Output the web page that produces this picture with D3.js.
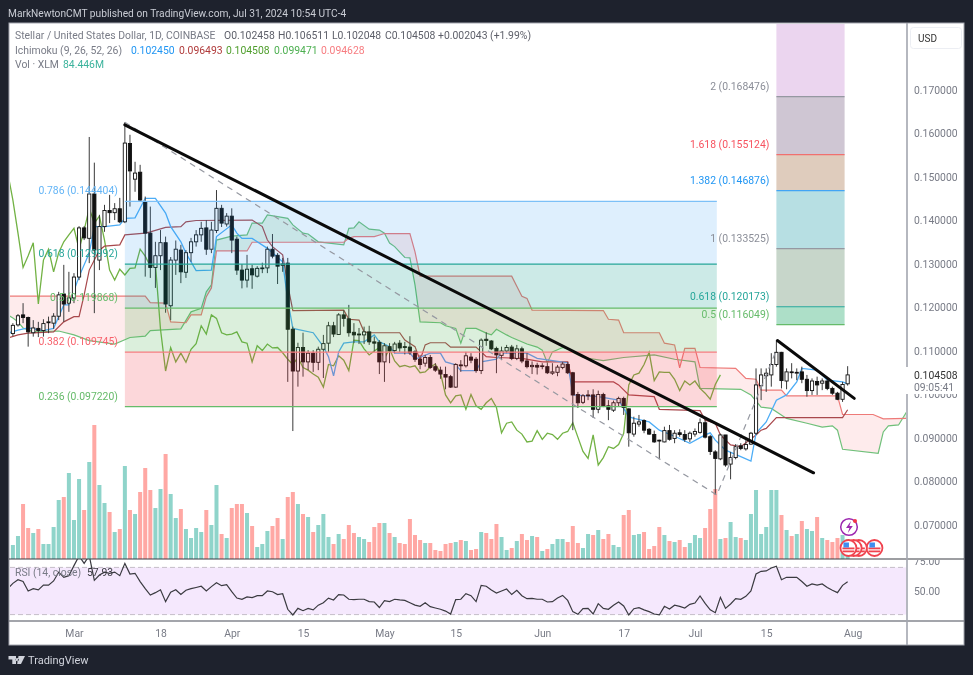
<!DOCTYPE html>
<html><head><meta charset="utf-8">
<script src="https://cdn.jsdelivr.net/npm/d3@7/dist/d3.min.js"></script>
<style>
html,body{margin:0;padding:0;background:#1e222d;overflow:hidden}
svg{display:block;filter:blur(.3px)}
text{font-family:Roboto,"Liberation Sans",sans-serif}
</style></head><body>
<script>
// ---------- data (prices in thousandths of a US dollar, bars counted from 17 Feb 2024) ----------
const open=[116.0,114.0,116.0,118.3,117.7,114.2,115.2,114.7,116.5,116.4,
118.0,123.1,121.0,122.2,127.0,138.3,135.9,146.1,130.9,138.6,
142.3,141.8,142.7,139.7,157.7,149.5,151.1,144.3,137.1,129.2,
131.9,134.9,120.4,130.9,133.2,128.1,132.6,135.1,136.7,138.3,
133.4,137.7,142.8,139.2,141.0,135.7,128.6,126.3,128.9,127.2,
129.0,129.1,133.4,132.0,129.7,130.2,115.0,105.4,110.8,107.5,
109.5,107.4,110.4,111.8,115.8,113.8,118.3,117.4,114.3,113.7,
113.7,114.4,112.1,112.0,107.5,111.0,110.1,111.8,111.0,110.9,
109.8,108.1,107.2,108.5,106.4,105.6,104.6,104.1,101.7,106.8,
106.6,108.6,108.1,105.5,112.7,112.3,110.6,109.0,110.0,110.9,
108.3,110.5,107.7,106.4,106.7,106.5,106.4,104.9,105.1,106.2,
106.9,105.0,100.0,98.2,99.7,99.9,96.6,100.0,97.4,96.4,
98.1,99.1,96.7,90.9,93.2,94.0,92.0,90.8,89.5,89.1,
91.7,89.9,91.2,90.8,89.8,90.9,91.3,93.5,90.3,86.8,
85.2,90.7,84.0,85.5,88.2,87.5,88.6,91.1,102.0,104.3,
104.5,106.9,109.7,103.1,105.2,104.9,105.2,103.5,100.9,103.0,
102.6,103.1,101.4,100.3,98.9,102.458];
const high=[116.4,116.4,118.5,121.0,117.9,117.1,116.7,117.3,117.9,118.7,
123.6,129.8,128.2,127.9,138.7,138.7,159.2,153.3,141.3,143.6,
145.9,144.0,145.2,162.6,159.7,153.5,152.8,145.5,143.2,135.1,
137.8,136.3,131.6,135.4,134.4,133.2,136.0,137.8,139.7,140.1,
139.7,147.0,143.6,141.7,142.8,136.3,130.0,132.1,129.8,129.5,
130.3,134.0,136.9,132.5,131.4,131.4,115.6,111.9,114.2,110.2,
110.2,111.0,113.7,116.7,116.7,118.7,119.4,120.6,116.4,115.3,
115.6,115.8,113.3,112.5,111.8,111.8,112.1,112.5,112.1,113.4,
110.2,109.1,109.1,109.1,107.2,106.4,106.4,104.5,107.2,107.9,
109.8,109.5,108.6,112.9,114.3,112.5,111.0,111.0,111.4,111.4,
111.4,111.0,109.5,107.6,107.3,107.2,107.2,107.2,106.8,107.5,
107.5,105.2,100.6,100.1,101.0,101.2,100.9,100.4,98.7,98.6,
99.5,99.5,96.8,94.9,95.3,94.3,92.3,91.7,89.6,92.6,
93.0,91.8,92.0,91.8,91.5,92.2,94.5,94.1,90.7,87.2,
91.0,90.7,86.8,88.6,88.8,89.5,91.4,106.0,106.0,106.0,
109.5,112.5,109.8,106.0,107.2,106.0,106.4,104.5,103.7,104.1,
103.7,103.7,101.8,100.6,102.9,106.511];
const low=[113.0,113.4,115.6,116.4,111.0,113.3,113.2,113.3,114.1,115.1,
117.1,116.7,119.0,121.0,126.3,135.5,130.2,118.7,128.6,137.4,
139.4,140.1,139.4,139.4,143.2,146.6,144.3,127.1,126.8,124.5,
128.6,118.8,117.1,127.5,125.6,126.8,130.5,134.0,135.1,132.1,
132.5,137.1,138.5,138.6,132.5,127.5,124.4,124.6,124.3,126.9,
127.9,127.9,131.3,125.4,128.2,102.9,91.6,101.8,104.1,105.6,
105.2,105.6,103.8,109.8,113.2,113.7,115.6,113.3,111.8,111.6,
111.6,111.4,109.8,104.7,102.9,107.2,109.5,109.8,109.2,109.1,
107.5,105.8,106.4,105.9,105.2,103.6,101.2,101.5,101.5,105.2,
106.2,107.2,105.0,104.7,111.2,110.2,104.9,107.9,109.5,107.9,
107.9,107.2,106.0,104.7,104.6,105.8,104.7,104.5,104.2,105.8,
104.7,91.8,96.9,97.8,98.7,94.6,95.7,97.1,94.1,96.0,
97.2,95.3,88.0,90.3,92.6,91.1,90.7,88.9,85.1,89.0,
89.4,88.8,90.3,89.1,89.1,90.3,91.0,89.9,86.1,76.9,
84.9,83.4,80.5,85.1,87.2,87.1,88.4,90.7,98.7,100.6,
101.8,106.4,101.4,101.2,103.7,103.3,102.6,99.5,99.9,99.9,
101.0,101.0,99.9,98.7,98.3,102.048];
const close=[113.7,115.9,118.1,117.7,114.4,115.3,114.7,116.3,116.7,118.0,
122.9,120.8,122.2,127.0,138.3,136.0,146.1,133.2,138.6,142.3,
141.8,142.7,139.7,157.8,151.4,150.9,144.7,137.1,129.2,131.9,
134.9,120.8,130.9,133.4,128.2,132.6,135.1,136.7,138.2,133.4,
137.8,142.8,139.4,141.0,135.5,128.6,126.3,128.8,127.5,129.0,
129.1,133.4,131.8,129.5,130.0,115.0,105.4,110.8,107.5,109.5,
107.4,110.4,111.7,115.8,113.9,118.3,117.5,114.2,113.7,113.9,
114.4,112.1,111.8,107.5,111.2,110.1,111.6,110.7,110.8,109.6,
108.1,106.9,108.5,106.2,105.6,104.7,104.0,101.7,106.9,106.6,
108.9,107.9,105.5,112.5,112.4,110.5,109.1,110.0,110.8,108.3,
110.5,107.7,106.4,106.7,106.3,106.6,105.0,105.2,106.3,107.0,
105.0,99.9,98.1,99.7,99.9,96.6,100.0,97.4,96.6,98.1,
99.1,97.0,91.2,93.4,93.7,91.8,90.9,89.1,89.3,91.7,
89.7,91.1,90.8,89.7,91.1,91.5,93.5,90.2,86.9,85.3,
90.7,83.8,85.5,88.0,87.6,88.5,91.1,102.2,104.5,104.9,
106.9,109.7,103.2,105.2,105.1,105.1,103.5,100.9,103.1,102.2,
103.1,101.4,100.3,98.9,102.3,104.508];
const volume=[15,14,23,55,31,26,30,15,15,32,59,62,86,39,80,49,97,134,74,56,
47,27,30,93,49,45,67,91,69,51,70,105,65,41,50,30,21,31,27,49,
34,74,25,21,51,55,55,46,33,12,15,28,33,41,20,62,67,55,45,42,
27,34,45,22,15,25,20,34,26,22,20,17,32,36,36,26,22,16,15,40,
24,19,16,16,9,8,15,16,17,19,18,9,10,27,26,20,35,22,9,11,
18,25,19,23,22,8,10,15,20,20,17,33,16,11,25,24,29,20,25,14,
12,44,49,24,25,27,10,13,32,24,18,17,19,12,16,24,21,31,50,70,
20,21,37,22,21,19,45,69,25,32,69,69,44,29,23,25,38,30,28,42,
21,19,17,21,24,20];
const volumeUp=[0,1,1,0,0,1,0,1,1,1, 1,0,1,1,1,0,1,0,1,1, 0,1,0,1,0,1,0,0,0,1, 1,0,1,1,0,1,1,1,1,0,
1,1,0,1,0,0,0,1,0,1, 1,1,0,0,1,0,0,1,0,1, 0,1,1,1,0,1,0,0,0,1, 1,0,0,0,1,0,1,0,0,0,
0,0,1,0,0,0,0,0,1,0, 1,0,0,1,0,0,0,1,1,0, 1,0,0,1,0,1,0,1,1,1, 0,0,0,1,1,0,1,0,0,1,
1,0,0,1,1,0,0,0,0,1, 0,1,0,0,1,1,1,0,0,0, 1,0,1,1,0,1,1,1,1,1, 1,1,0,1,0,1,0,1,1,0, 1,0,0,0,1,1];
const rsi=[52,56.5,59.6,58,50,52,51,55,55,58.5,66,61.6,63,71.5,79.7,73.4,80,59,63.5,66,
65,66,63,73.4,64.4,65,58,52,46.6,48.6,51,41,49,51,47,50.6,52,53,54,50,
53.7,57,54.5,55.4,49.4,44,43,45,44.4,46,46,50,49.4,47,47.7,34.5,29.7,35.3,33.3,35.3,
34,38,40,44,42.4,47,46.6,43,42.7,43,43,41,40.7,36,41.8,41,43,42.4,42,40,
38,37,40,36.7,35.6,34.5,33,30.5,42.7,43,47.7,46,41,54.8,54,50.8,48.3,50,51.7,47,
50.6,46,43.5,43.8,43,43,40.7,41,44,46.3,42,32.5,30.2,35,35.3,30.5,39.3,35.3,34.5,38,
40.7,37.3,29.7,35,35.9,34,32.5,30.5,29.7,37,34.7,38,37,35.6,38.7,39.8,45.8,39.5,34,31.6,
44.6,35.3,39,43.5,43,45.5,50,64.4,66.7,67,69.5,71,59.6,61.6,61.6,61.6,58,54,56,55,
56,53,50.6,48.6,54.8,57.93];
const tenkan=[[0,114.1],[2,114.8],[4,115.3],[7,114.7],[9,115.2],[11,120.6],[12,120.6],[14,127.1],[16,132.5],[17,138.6],[19,138.6],[22,139.0],[23,140.5],[25,140.6],[27,145.1],[29,145.1],[31,141.7],[32,138.6],[34,135.1],[35,132.5],[36,130.5],[37,128.5],[40,128.6],[41,136.3],[44,139.0],[45,137.1],[46,135.9],[48,135.9],[51,133.6],[54,130.5],[55,121.7],[56,115.2],[60,114.2],[62,111.0],[63,108.7],[64,104.3],[65,109.8],[66,111.8],[68,112.1],[70,112.1],[72,113.7],[73,112.1],[74,111.6],[75,111.0],[76,109.5],[79,109.5],[80,108.1],[83,109.5],[85,109.5],[86,107.5],[88,106.8],[89,105.5],[92,105.5],[93,107.5],[96,108.1],[97,109.5],[102,109.5],[104,108.3],[110,107.3],[111,99.9],[116,99.5],[120,98.7],[122,94.9],[123,94.5],[126,93.7],[128,91.8],[131,90.4],[134,88.8],[137,90.7],[138,91.2],[139,89.5],[141,87.2],[144,85.7],[146,84.7],[147,91.1],[149,93.7],[151,98.7],[153,99.9],[155,102.9],[156,106.0],[159,105.6],[161,103.3],[164,102.9],[165,102.45]];
const kijun=[[0,113.0],[2,113.7],[4,114.1],[9,114.4],[11,116.7],[13,117.9],[14,117.9],[15,122.9],[16,128.6],[18,133.2],[19,134.1],[22,134.4],[23,136.7],[27,137.1],[28,137.4],[31,138.4],[34,138.6],[35,139.7],[37,140.0],[48,140.1],[50,138.6],[51,135.5],[52,134.0],[54,132.1],[55,125.2],[56,119.3],[66,119.4],[67,117.3],[69,117.1],[70,114.4],[71,114.2],[77,114.2],[78,112.5],[80,111.0],[81,107.9],[82,111.4],[83,111.9],[86,111.9],[87,110.9],[92,110.9],[93,109.8],[94,108.7],[96,108.5],[101,108.3],[105,107.5],[110,107.5],[111,102.9],[119,102.9],[120,102.2],[122,99.9],[127,99.5],[128,96.6],[136,96.3],[137,94.1],[139,93.4],[140,90.7],[142,88.4],[144,88.0],[147,90.7],[148,91.8],[149,92.2],[151,94.7],[164,94.7],[165,96.5]];
const leadA=[[0,118.3],[1,117.6],[2,116.7],[3,115.3],[5,114.4],[10,114.6],[13,113.7],[16,112.4],[21,111.6],[24,113.1],[27,113.4],[28,114.7],[34,115.1],[36,119.0],[38,119.8],[39,123.6],[40,125.2],[41,135.5],[44,136.4],[47,136.7],[48,139.4],[50,139.4],[51,141.3],[53,140.9],[55,140.5],[56,139.0],[58,137.1],[59,136.9],[61,135.1],[66,134.4],[67,138.2],[68,138.3],[69,139.7],[71,138.0],[73,137.8],[74,137.1],[75,134.8],[76,134.0],[78,131.5],[79,131.4],[80,125.2],[81,116.7],[85,116.5],[86,115.8],[88,115.2],[89,111.8],[90,115.2],[92,115.2],[94,114.1],[95,113.7],[96,115.0],[98,113.7],[99,113.1],[102,111.6],[104,110.9],[105,110.2],[106,107.3],[107,109.8],[109,110.8],[110,110.6],[111,109.7],[113,108.5],[117,107.8],[121,108.5],[127,109.1],[131,108.1],[135,107.5],[136,101.4],[144,101.2],[146,99.9],[148,97.1],[150,96.8],[153,94.5],[157,93.4],[160,92.5],[162,92.8],[163,91.8],[164,87.4],[171,86.5],[172,91.4],[173,92.8],[175,93.0],[177,96.8]];
const leadB=[[0,122.6],[27,122.6],[28,121.1],[31,121.0],[32,116.7],[35,116.5],[36,118.3],[38,118.3],[39,122.5],[40,124.5],[41,133.0],[47,133.0],[48,135.0],[66,135.0],[67,135.9],[68,136.3],[72,136.3],[74,137.0],[79,137.0],[80,132.8],[81,127.2],[99,127.2],[100,124.9],[101,122.6],[102,122.1],[103,119.4],[117,119.3],[118,117.3],[120,117.1],[121,114.2],[128,114.2],[129,111.8],[131,111.4],[132,106.1],[133,110.6],[135,110.6],[136,106.2],[143,106.0],[145,103.7],[147,103.5],[148,101.0],[152,101.0],[153,99.7],[163,99.7],[164,95.4],[170,95.4],[172,94.4],[177,94.5]];
const laggingShift=25;
const retraceBars=[23,139.3];
const retraceValues=[144.404,129.992,119.868,109.745,97.220];
const retraceLabels=["0.786 (0.144404)","0.618 (0.129992)","0.5 (0.119868)","0.382 (0.109745)","0.236 (0.097220)"];
const extendBars=[151,164.4];
const extendValues=[168.476,155.124,146.876,133.525,120.173,116.049];
const extendLabels=["2 (0.168476)","1.618 (0.155124)","1.382 (0.146876)","1 (0.133525)","0.618 (0.120173)","0.5 (0.116049)"];
const priceTicks=[70,80,90,100,110,120,130,140,150,160,170];
const rsiTicks=[50,75];
const timeTicks=[13,30,44,58,74,88,105,121,135,149,166];
const timeLabels=["Mar","18","Apr","15","May","15","Jun","17","Jul","15","Aug"];
const trendLong=[[23,162.0],[158.3,82.0]];
const trendShort=[[151.2,112.4],[166.3,99.1]];
const dashedPath=[[23,162.6],[139.3,76.9],[151,110.2]];
const flagBars=[170,167,166,165];
// ---------- layout ----------
const W=973,H=675,L=9,R=964,T=23,B=645,SEP=907,PANE=559,RSIB=621;
const x=d3.scaleLinear([0,165],[7.8,847.65]);
const y=d3.scaleLinear([70,170],[525,90]);
const yv=d3.scaleLinear([0,134],[PANE,PANE-134]);
const yr=d3.scaleLinear([50,75],[591,561.5]);
const svg=d3.select("body").append("svg").attr("width",W).attr("height",H);
const defs=svg.append("defs");
const clip=(id,a,b,c,d)=>defs.append("clipPath").attr("id",id).append("rect").attr("x",a).attr("y",b).attr("width",c-a).attr("height",d-b);
clip("main",L+1,T+1,SEP-1,PANE);clip("rsi",L+1,PANE,SEP-1,RSIB);clip("raxis",SEP,PANE+1,R,RSIB);
svg.append("rect").attr("width",W).attr("height",H).attr("fill","#1e222d");
svg.append("rect").attr("x",L).attr("y",T).attr("width",R-L).attr("height",B-T).attr("fill","#fff").attr("stroke","#a3a6af").attr("stroke-width",1);
const main=svg.append("g").attr("clip-path","url(#main)");

// cloud
const bars=d3.range(0,178);
const fa=d3.scaleLinear(leadA.map(d=>d[0]),leadA.map(d=>d[1]));
const fb=d3.scaleLinear(leadB.map(d=>d[0]),leadB.map(d=>d[1]));
const cloud=d3.area().x(i=>x(i)).y0(i=>y(fa(i))).y1(i=>y(fb(i)));
defs.append("clipPath").attr("id","overB").append("path").attr("d",d3.area().x(i=>x(i)).y0(T).y1(i=>y(fb(i)))(bars));
defs.append("clipPath").attr("id","underB").append("path").attr("d",d3.area().x(i=>x(i)).y0(i=>y(fb(i))).y1(PANE)(bars));
main.append("g").attr("clip-path","url(#overB)").append("path").attr("d",cloud(bars)).attr("fill","rgba(76,175,80,.14)");
main.append("g").attr("clip-path","url(#underB)").append("path").attr("d",cloud(bars)).attr("fill","rgba(242,54,69,.10)");

// volume
main.append("g").selectAll("rect").data(volume).join("rect")
 .attr("x",(d,i)=>x(i)-2).attr("width",4).attr("y",d=>yv(d)).attr("height",d=>PANE-yv(d))
 .attr("fill",(d,i)=>volumeUp[i]?"#8fd4ca":"#ffa8a4");

// ichimoku
const pl=d3.line().x(d=>x(d[0])).y(d=>y(d[1]));
const lag=d3.range(0,close.length-laggingShift).map(i=>[i,close[i+laggingShift]]);
main.append("path").attr("d",pl(leadA)).attr("fill","none").attr("stroke","#70c07a").attr("stroke-width",1.2);
main.append("path").attr("d",pl(leadB)).attr("fill","none").attr("stroke","#ee7a78").attr("stroke-width",1.2);
main.append("path").attr("d",pl(lag)).attr("fill","none").attr("stroke","#72b244").attr("stroke-width",1.3);
main.append("path").attr("d",pl(kijun)).attr("fill","none").attr("stroke","#a8484c").attr("stroke-width",1.2);
main.append("path").attr("d",pl(tenkan)).attr("fill","none").attr("stroke","#4dadf6").attr("stroke-width",1.3);

// candles
const cd=d3.range(open.length);
main.append("g").selectAll("line").data(cd).join("line")
 .attr("x1",i=>x(i)).attr("x2",i=>x(i)).attr("y1",i=>y(high[i])).attr("y2",i=>y(low[i]))
 .attr("stroke","#3a3a3a").attr("stroke-width",1);
main.append("g").selectAll("rect").data(cd).join("rect")
 .attr("x",i=>x(i)-1.6).attr("width",3.2)
 .attr("y",i=>y(Math.max(open[i],close[i])))
 .attr("height",i=>Math.max(.8,Math.abs(y(open[i])-y(close[i]))))
 .attr("fill",i=>close[i]>=open[i]?"#fff":"#111").attr("stroke","#111").attr("stroke-width",.9);

// retracement fib
const bandFill=["rgba(33,150,243,.15)","rgba(0,150,136,.2)","rgba(76,175,80,.2)","rgba(242,54,69,.2)"];
const retColor=["#7cc0f7","#26a69a","#66bb6a","#f77c80","#66bb6a"];
const retText=["#64b5f6","#26a69a","#66bb6a","#f7626c","#66bb6a"];
const rx0=x(retraceBars[0]),rx1=x(retraceBars[1]);
main.append("g").selectAll("rect").data(bandFill).join("rect")
 .attr("x",rx0).attr("width",rx1-rx0).attr("y",(d,i)=>y(retraceValues[i])).attr("height",(d,i)=>y(retraceValues[i+1])-y(retraceValues[i])).attr("fill",d=>d);
main.append("g").selectAll("line").data(retraceValues).join("line")
 .attr("x1",rx0).attr("x2",rx1).attr("y1",d=>y(d)).attr("y2",d=>y(d)).attr("stroke",(d,i)=>retColor[i]).attr("stroke-width",1.2);
main.append("g").selectAll("text").data(retraceLabels).join("text").text(d=>d)
 .attr("x",rx0-7).attr("y",(d,i)=>y(retraceValues[i])-7).attr("text-anchor","end").attr("font-size",10.4).attr("fill",(d,i)=>retText[i]);

// extension fib
const extFill=["#cfc6d3","#dfccbd","#b7dfe3","#c7d6ca","#addfc8"];
const extColor=["#9598a1","#f0706f","#42a5f5","#9598a1","#26a69a","#66bb6a"];
const extText=["#8b8e98","#f7525f","#2196f3","#8b8e98","#26a69a","#66bb6a"];
const ex0=x(extendBars[0]),ex1=x(extendBars[1]);
main.append("rect").attr("x",ex0).attr("width",ex1-ex0).attr("y",T).attr("height",y(extendValues[0])-T).attr("fill","#ebd5ef");
main.append("g").selectAll("rect").data(extFill).join("rect")
 .attr("x",ex0).attr("width",ex1-ex0).attr("y",(d,i)=>y(extendValues[i])).attr("height",(d,i)=>y(extendValues[i+1])-y(extendValues[i])).attr("fill",d=>d);
main.append("g").selectAll("line").data(extendValues).join("line")
 .attr("x1",ex0).attr("x2",ex1).attr("y1",d=>y(d)).attr("y2",d=>y(d)).attr("stroke",(d,i)=>extColor[i]).attr("stroke-width",1.2);
main.append("g").selectAll("text").data(extendLabels).join("text").text(d=>d)
 .attr("x",ex0-7).attr("y",(d,i)=>y(extendValues[i])-7).attr("text-anchor","end").attr("font-size",10.4).attr("fill",(d,i)=>extText[i]);

// drawings
main.append("path").attr("d",pl(dashedPath)).attr("fill","none").attr("stroke","#9598a1").attr("stroke-width",1.2).attr("stroke-dasharray","6 5");
[trendLong,trendShort].forEach(t=>main.append("path").attr("d",pl(t)).attr("fill","none").attr("stroke","#0a0a0a").attr("stroke-width",3).attr("stroke-linecap","round"));

// rsi pane
const rsiG=svg.append("g").attr("clip-path","url(#rsi)");
rsiG.append("rect").attr("x",L+1).attr("width",SEP-L).attr("y",yr(70)).attr("height",yr(30)-yr(70)).attr("fill","#f5e8fd");
[70,30].forEach(v=>rsiG.append("line").attr("x1",L+1).attr("x2",SEP).attr("y1",yr(v)).attr("y2",yr(v)).attr("stroke","#c4bdc8").attr("stroke-dasharray","5 3"));
rsiG.append("path").attr("d",d3.line().x((d,i)=>x(i)).y(d=>yr(d))(rsi)).attr("fill","none").attr("stroke","#3a3a40").attr("stroke-width",1.2);

// event icons
const ic=svg.append("g");
ic.append("circle").attr("cx",849).attr("cy",527).attr("r",8.3).attr("fill","#fff").attr("stroke","#9c27b0").attr("stroke-width",1.5);
ic.append("path").attr("d","M851 521l-5 7h3.4l-1.6 5 5-7h-3.4z").attr("fill","#9c27b0");
ic.append("circle").attr("cx",855).attr("cy",521).attr("r",2).attr("fill","#f23645");
flagBars.forEach(b=>{
 const cx=x(165)+.8+(b-165)*5.2,cy=548,g=ic.append("g");
 g.append("circle").attr("cx",cx).attr("cy",cy).attr("r",8).attr("fill","#fff").attr("stroke","#f0434f").attr("stroke-width",1.8);
 [-.5,2.5].forEach(dy=>g.append("rect").attr("x",cx-6).attr("y",cy+dy).attr("width",12).attr("height",1.8).attr("fill","#f0434f"));
 g.append("rect").attr("x",cx-5).attr("y",cy-5.5).attr("width",5.5).attr("height",5).attr("fill","#3f8ef0");
});

// pane separators
svg.append("line").attr("x1",L).attr("x2",R).attr("y1",PANE).attr("y2",PANE).attr("stroke","#3c3f47").attr("stroke-width",1.2);
svg.append("line").attr("x1",L).attr("x2",R).attr("y1",RSIB).attr("y2",RSIB).attr("stroke","#85878f").attr("stroke-width",1.5);
svg.append("line").attr("x1",SEP).attr("x2",SEP).attr("y1",T).attr("y2",B).attr("stroke","#a3a6af").attr("stroke-width",1.6);

// axes
const axisFont=g=>{g.select(".domain").remove();g.selectAll(".tick line").remove();g.selectAll("text").attr("font-family","Roboto,'Liberation Sans',sans-serif").attr("font-size",10.4).attr("fill","#787b86");};
svg.append("g").attr("transform",`translate(${SEP+1},0)`).call(d3.axisRight(y).tickValues(priceTicks).tickFormat(d=>(d/1000).toFixed(6)).tickSize(0).tickPadding(6)).call(axisFont);
svg.append("g").attr("clip-path","url(#raxis)").append("g").attr("transform",`translate(${SEP+1},0)`).call(d3.axisRight(yr).tickValues(rsiTicks).tickFormat(d=>d.toFixed(2)).tickSize(0).tickPadding(6)).call(axisFont);
svg.append("g").attr("transform",`translate(0,${RSIB+6})`).call(d3.axisBottom(x).tickValues(timeTicks).tickFormat((d,i)=>timeLabels[i]).tickSize(0).tickPadding(3)).call(axisFont);

// current price tag
svg.append("rect").attr("x",SEP-1).attr("y",367).attr("width",R-SEP).attr("height",27).attr("fill","#fff");
const tag=(t,yy,c)=>svg.append("text").text(t).attr("x",914).attr("y",yy).attr("font-size",10.4).attr("fill",c);
tag("0.104508",379,"#333");tag("09:05:41",391,"#787b86");

// USD button
svg.append("rect").attr("x",910.5).attr("y",27.5).attr("width",51).attr("height",21).attr("rx",3).attr("fill","#fff").attr("stroke","#eceef3");
svg.append("text").text("USD").attr("x",918).attr("y",42).attr("font-size",10).attr("fill","#333");

// header, legend
const txt=(s,a,b,c,f)=>svg.append("text").text(s).attr("x",a).attr("y",b).attr("fill",c).attr("font-size",f||10.4);
txt("MarkNewtonCMT published on TradingView.com, Jul 31, 2024 10:54 UTC-4",8,17,"#c9ccd4",10.2);
txt("Stellar / United States Dollar, 1D, COINBASE",15,39,"#787b86");
[["O0.102458",224],["H0.106511",278],["L0.102048",332],["C0.104508",385],["+0.002043 (+1.99%)",438]].forEach(d=>txt(d[0],d[1],39,"#5d5f69"));
txt("Ichimoku (9, 26, 52, 26)",15,54,"#787b86");
[["0.102450",131,"#2196f3"],["0.096493",179,"#b03a3a"],["0.104508",226,"#4f9e2c"],["0.099471",274,"#4caf50"],["0.094628",321,"#f77c80"]].forEach(d=>txt(d[0],d[1],54,d[2]));
txt("Vol · XLM",15,68,"#787b86");txt("84.446M",63,68,"#3bb39c");
txt("RSI (14, close)",15,576,"#787b86");txt("57.93",87,576,"#3a3a40");

// footer logo
svg.append("path").attr("d","M8.5 656h7.5v8h-3.7v-4.4H8.5zM18.5 656h6.5l-4 8h-3.8zM17.2 658a1.6 1.6 0 1 0 .01 0z").attr("fill","#d1d4dc");
txt("TradingView",28,664,"#d1d4dc",11);
</script></body></html>
